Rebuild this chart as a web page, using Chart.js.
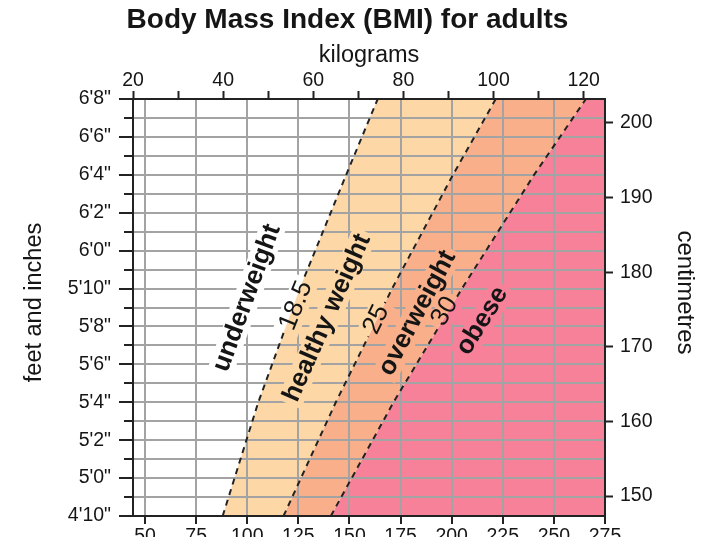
<!DOCTYPE html>
<html>
<head>
<meta charset="utf-8">
<script src="https://cdn.jsdelivr.net/npm/chart.js@4.4.1/dist/chart.umd.min.js"></script>
<style>
html,body{margin:0;padding:0;background:#fff;overflow:hidden;width:717px;height:537px}
canvas{display:block}
</style>
</head>
<body>
<canvas id="c" width="717" height="560"></canvas>
<script>
// ---------------- data ----------------
const heightsIn = [58, 64, 70, 76, 80];           // height (inches) at which boundaries are read
const bmi185Kg  = [39.9, 47.8, 57.0, 67.3, 74.3]; // BMI 18.5 boundary (kg)
const bmi25Kg   = [53.4, 65.0, 77.5, 91.0, 100.5];// BMI 25 boundary (kg)
const bmi30Kg   = [63.9, 77.8, 93.0, 109.0, 120.5];// BMI 30 boundary (kg)
const bmiCutoffs = ['18.5', '25', '30'];
const bandNames  = ['underweight', 'healthy weight', 'overweight', 'obese'];

const kgTickValues  = [20, 40, 60, 80, 100, 120];
const lbTickValues  = [50, 75, 100, 125, 150, 175, 200, 225, 250, 275];
const cmTickValues  = [150, 160, 170, 180, 190, 200];
const inchTickValues = [58, 60, 62, 64, 66, 68, 70, 72, 74, 76, 78, 80];
const inchTickLabels = ['4\'10"', '5\'0"', '5\'2"', '5\'4"', '5\'6"', '5\'8"', '5\'10"', '6\'0"', '6\'2"', '6\'4"', '6\'6"', '6\'8"'];

// axis ranges
const HEIGHT_MIN = 58, HEIGHT_MAX = 80;
const LB_PER_KG = 2.20462, CM_PER_IN = 2.54;
const KG_MIN = 20, LB_MAX = 275;
const KG_MAX = LB_MAX / LB_PER_KG;
const LB_MIN = KG_MIN * LB_PER_KG;

// ---------------- styles ----------------
const FONT = "'Liberation Sans', Arial, Helvetica, sans-serif";
const C_HEALTHY = '#FDD8A6';
const C_OVER = '#F9B08A';
const C_OBESE = '#F8819A';
const C_GRID = '#a3a3a3';
const C_AXIS = '#222222';
const C_TEXT = '#151515';

const pts = arr => heightsIn.map((h, i) => ({x: arr[i], y: h}));
const line185 = pts(bmi185Kg), line25 = pts(bmi25Kg), line30 = pts(bmi30Kg);
const healthyPoly = line185.concat(line25.slice().reverse());
const overPoly = line25.concat(line30.slice().reverse());
const obesePoly = line30.concat([{x: KG_MAX, y: HEIGHT_MAX}, {x: KG_MAX, y: HEIGHT_MIN}]);

const regionLabels = [
  {text: bandNames[0], kg: 45.3, inch: 69.5, angle: -70, bold: true},
  {text: bmiCutoffs[0], kg: 56.2, inch: 69.1, angle: -68, bold: false},
  {text: bandNames[1], kg: 63.1, inch: 68.45, angle: -66, bold: true},
  {text: bmiCutoffs[1], kg: 74.0, inch: 68.36, angle: -64, bold: false},
  {text: bandNames[2], kg: 83.1, inch: 68.7, angle: -62, bold: true},
  {text: bmiCutoffs[2], kg: 89.2, inch: 68.8, angle: -60, bold: false},
  {text: bandNames[3], kg: 97.5, inch: 68.3, angle: -58, bold: true}
];
const LABEL_SIZE = 26;

function labelFont(l) { return (l.bold ? 'bold ' : '') + LABEL_SIZE + 'px ' + FONT; }

function labelGeometry(chart) {
  const ctx = chart.ctx, xs = chart.scales.x, ys = chart.scales.y;
  return regionLabels.map(l => {
    ctx.save();
    ctx.font = labelFont(l);
    const w = ctx.measureText(l.text).width + 8;
    ctx.restore();
    const h = LABEL_SIZE * 1.0;
    const cx = xs.getPixelForValue(l.kg), cy = ys.getPixelForValue(l.inch);
    const a = l.angle * Math.PI / 180, c = Math.cos(a), s = Math.sin(a);
    const corners = [[-w/2, -h/2], [w/2, -h/2], [w/2, h/2], [-w/2, h/2]].map(([u, v]) => ({x: cx + u*c - v*s, y: cy + u*s + v*c}));
    return {l, cx, cy, a, corners};
  });
}

const bmiPlugin = {
  id: 'bmiOverlay',
  beforeDatasetDraw(chart, args) {
    if (chart.data.datasets[args.index].isBoundary) return false;
  },
  afterDatasetsDraw(chart) {
    const ctx = chart.ctx;
    ctx.save();
    ctx.beginPath();
    ctx.rect(0, 0, chart.width, chart.height);
    labelGeometry(chart).forEach(g => {
      ctx.moveTo(g.corners[0].x, g.corners[0].y);
      for (let i = 1; i < 4; i++) ctx.lineTo(g.corners[i].x, g.corners[i].y);
      ctx.closePath();
    });
    ctx.clip('evenodd');
  },
  afterDraw(chart) {
    const ctx = chart.ctx;
    chart.data.datasets.forEach((ds, i) => {
      if (ds.isBoundary) chart.getDatasetMeta(i).controller.draw();
    });
    ctx.restore();
    // region labels
    labelGeometry(chart).forEach(g => {
      ctx.save();
      ctx.translate(g.cx, g.cy);
      ctx.rotate(g.a);
      ctx.font = labelFont(g.l);
      ctx.fillStyle = C_TEXT;
      ctx.textAlign = 'center';
      ctx.textBaseline = 'middle';
      ctx.fillText(g.l.text, 0, 0);
      ctx.restore();
    });
    // side axis titles
    const ca = chart.chartArea, midY = (ca.top + ca.bottom) / 2;
    ctx.save();
    ctx.fillStyle = C_TEXT;
    ctx.textAlign = 'center';
    ctx.textBaseline = 'middle';
    ctx.font = '23.5px ' + FONT;
    ctx.translate(ca.left - 98, midY - 5);
    ctx.rotate(-Math.PI / 2);
    ctx.fillText('feet and inches', 0, 0);
    ctx.restore();
    ctx.save();
    ctx.fillStyle = C_TEXT;
    ctx.textAlign = 'center';
    ctx.textBaseline = 'middle';
    ctx.font = '24px ' + FONT;
    ctx.translate(ca.right + 80, midY - 15);
    ctx.rotate(Math.PI / 2);
    ctx.fillText('centimetres', 0, 0);
    ctx.restore();
  }
};

const tickFont = {family: FONT, size: 19.5};
const baseGrid = {tickWidth: 2, tickColor: C_AXIS, z: 1};
const baseBorder = {display: true, color: C_AXIS, width: 2, z: 2};

const boundary = (data, label) => ({
  label, data, isBoundary: true, showLine: true, fill: false,
  borderColor: C_AXIS, borderWidth: 2, borderDash: [6, 5], pointRadius: 0
});
const region = (data, label, color) => ({
  label, data, showLine: true, fill: 'shape', backgroundColor: color,
  borderWidth: 0, borderColor: 'rgba(0,0,0,0)', pointRadius: 0
});

new Chart(document.getElementById('c'), {
  type: 'scatter',
  data: {
    datasets: [
      region(healthyPoly, bandNames[1], C_HEALTHY),
      region(overPoly, bandNames[2], C_OVER),
      region(obesePoly, bandNames[3], C_OBESE),
      boundary(line185, bmiCutoffs[0]),
      boundary(line25, bmiCutoffs[1]),
      boundary(line30, bmiCutoffs[2])
    ]
  },
  options: {
    responsive: false,
    animation: false,
    events: [],
    layout: {padding: {left: 0, right: 22, top: 0, bottom: 0}},
    plugins: {
      legend: {display: false},
      tooltip: {enabled: false},
      title: {
        display: true, text: 'Body Mass Index (BMI) for adults', color: C_TEXT,
        font: {family: FONT, size: 28, weight: 'bold'}, padding: {top: 3, bottom: 0}
      }
    },
    scales: {
      x: {
        type: 'linear', position: 'top', min: KG_MIN, max: KG_MAX,
        ticks: {stepSize: 10, includeBounds: false, autoSkip: false, maxRotation: 0, padding: -1,
          font: tickFont, color: C_TEXT,
          callback: v => kgTickValues.includes(v) ? String(v) : ''},
        grid: Object.assign({}, baseGrid, {drawOnChartArea: false, tickLength: 8}),
        border: baseBorder,
        title: {display: true, text: 'kilograms', color: C_TEXT, font: {family: FONT, size: 23.5}, padding: {top: 5, bottom: 0}},
        afterFit: s => { s.height = 62.4; }
      },
      x2: {
        type: 'linear', position: 'bottom', min: LB_MIN, max: LB_MAX,
        ticks: {stepSize: 25, includeBounds: false, autoSkip: false, maxRotation: 0, padding: 1,
          font: tickFont, color: C_TEXT,
          callback: v => lbTickValues.includes(v) ? String(v) : ''},
        grid: Object.assign({}, baseGrid, {color: C_GRID, lineWidth: 2, tickLength: 8}),
        border: baseBorder,
        afterFit: s => { s.height = 44; }
      },
      y: {
        type: 'linear', position: 'left', min: HEIGHT_MIN, max: HEIGHT_MAX,
        ticks: {stepSize: 1, includeBounds: false, autoSkip: false, padding: 8,
          font: tickFont, color: C_TEXT,
          callback: v => { const i = inchTickValues.indexOf(v); return i >= 0 ? inchTickLabels[i] : ''; }},
        grid: Object.assign({}, baseGrid, {color: C_GRID, lineWidth: 2, tickLength: 14,
          tickBorderDash: c => (c.tick && inchTickValues.indexOf(c.tick.value) < 0) ? [0, 5, 40, 0] : []}),
        border: baseBorder,
        afterFit: s => { s.width = 133; }
      },
      y2: {
        type: 'linear', position: 'right', min: HEIGHT_MIN * CM_PER_IN, max: HEIGHT_MAX * CM_PER_IN,
        ticks: {stepSize: 10, includeBounds: false, autoSkip: false, padding: 7,
          font: tickFont, color: C_TEXT,
          callback: v => cmTickValues.includes(v) ? String(v) : ''},
        grid: Object.assign({}, baseGrid, {drawOnChartArea: false, tickLength: 8}),
        border: baseBorder,
        afterFit: s => { s.width = 90; }
      }
    }
  },
  plugins: [bmiPlugin]
});
</script>
</body>
</html>
